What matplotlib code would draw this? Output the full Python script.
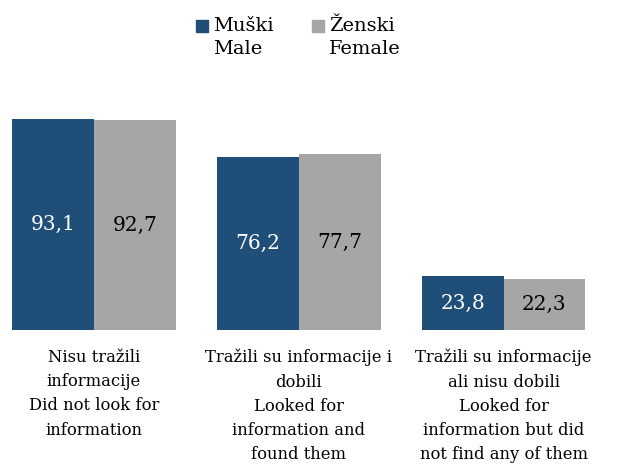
import numpy as np
import matplotlib.pyplot as plt
from matplotlib.patches import Rectangle

categories = ["Nisu tražili\ninformacije\nDid not look for\ninformation",
              "Tražili su informacije i\ndobili\nLooked for\ninformation and\nfound them",
              "Tražili su informacije\nali nisu dobili\nLooked for\ninformation but did\nnot find any of them"]
male = [93.1, 76.2, 23.8]
female = [92.7, 77.7, 22.3]
series_names = ["Muški\nMale", "Ženski\nFemale"]

blue = "#1f4e79"
gray = "#a6a6a6"
plt.rcParams['font.family'] = ['DejaVu Serif']

fig = plt.figure(figsize=(6.17, 4.68), dpi=100)
ax = fig.add_axes([0, 138/468, 1, 250/468])
x = np.arange(len(categories))
w = 0.4
b1 = ax.bar(x - w/2, male, w, color=blue)
b2 = ax.bar(x + w/2, female, w, color=gray)

def fmt(v):
    return f"{v:.1f}".replace(".", ",")

for rect, v in zip(b1, male):
    ax.text(rect.get_x() + rect.get_width()/2, v/2, fmt(v), ha='center', va='center',
            color='white', fontsize=14.5)
for rect, v in zip(b2, female):
    ax.text(rect.get_x() + rect.get_width()/2, v/2, fmt(v), ha='center', va='center',
            color='black', fontsize=14.5)

for xi, lab in zip(x, categories):
    ax.text(xi, -8.3, lab, ha='center', va='top', fontsize=11.8, linespacing=1.56,
            transform=ax.transData, clip_on=False)

ax.set_xlim(-0.4585, 2.554)
ax.set_ylim(0, 110.3)
ax.axis('off')

# legend
for (lx, col, name) in [(196, blue, series_names[0]), (312, gray, series_names[1])]:
    fig.add_artist(Rectangle((lx/617, 1 - 32/468), 12/617, 12/468, color=col,
                             transform=fig.transFigure))
    fig.text((lx + 17)/617, 1 - 17/468, name, ha='left', va='top', fontsize=14,
             linespacing=1.38)

fig.savefig("out.png", dpi=100)
